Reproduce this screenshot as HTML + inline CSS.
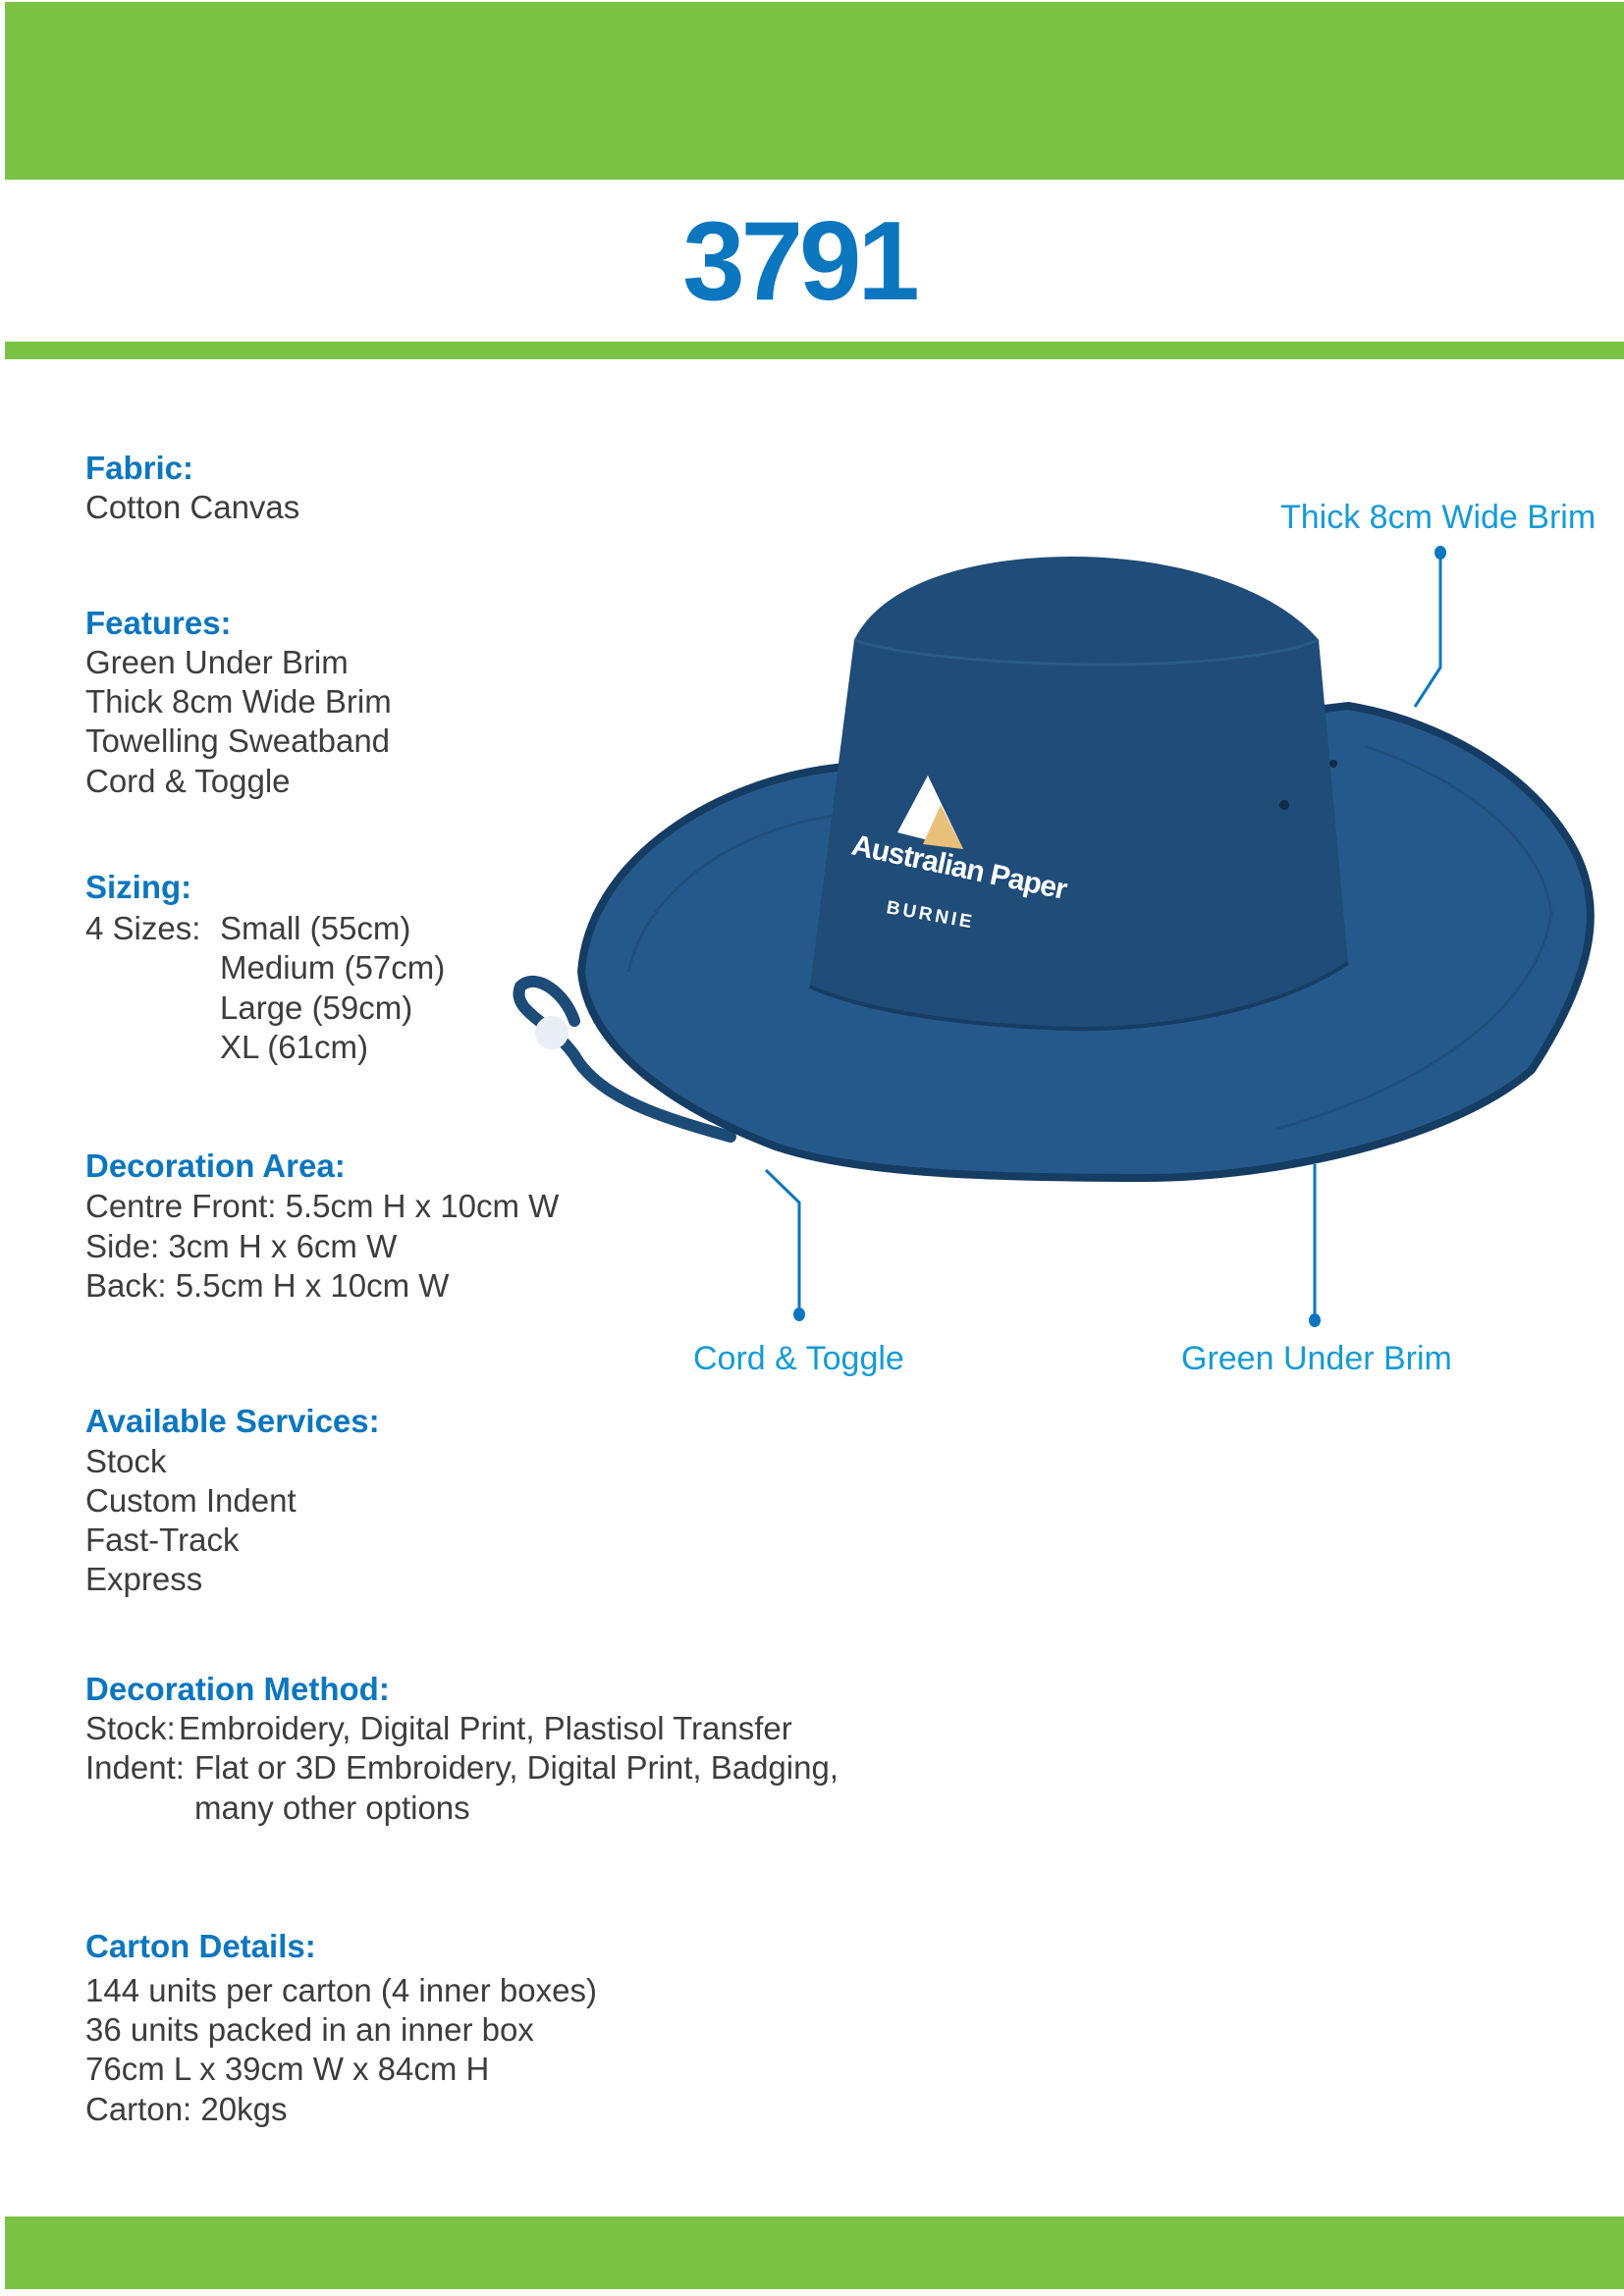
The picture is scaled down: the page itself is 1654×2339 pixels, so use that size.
<!DOCTYPE html>
<html><head><meta charset="utf-8"><style>
html,body{margin:0;padding:0}
body{width:1654px;height:2339px;position:relative;background:#fff;overflow:hidden;font-family:"Liberation Sans",Arial,sans-serif}
.bar{position:absolute;left:5px;width:1649px;background:#7ac244}
.t{position:absolute;left:87px;font-size:33px;line-height:40px;color:#3d3d3d;white-space:nowrap}
.h{color:#0c76bf;font-weight:bold}
.lab{position:absolute;font-size:34px;line-height:40px;color:#159ad8;white-space:nowrap}
</style></head><body>
<div class="bar" style="top:2px;height:181px"></div>
<div style="position:absolute;left:0;width:1628px;top:205px;text-align:center;font-size:114px;line-height:124px;font-weight:bold;color:#0c76bf;letter-spacing:-4px">3791</div>
<div class="bar" style="top:348px;height:18px"></div>
<div class="bar" style="top:2258px;height:74px"></div>

<div class="t h" style="top:457px">Fabric:</div>
<div class="t" style="top:497px">Cotton Canvas</div>

<div class="t h" style="top:615px">Features:</div>
<div class="t" style="top:655px">Green Under Brim</div>
<div class="t" style="top:695px">Thick 8cm Wide Brim</div>
<div class="t" style="top:735px">Towelling Sweatband</div>
<div class="t" style="top:776px">Cord &amp; Toggle</div>

<div class="t h" style="top:884px">Sizing:</div>
<div class="t" style="top:926px">4 Sizes:</div>
<div class="t" style="top:926px;left:224px">Small (55cm)</div>
<div class="t" style="top:966px;left:224px">Medium (57cm)</div>
<div class="t" style="top:1007px;left:224px">Large (59cm)</div>
<div class="t" style="top:1047px;left:224px">XL (61cm)</div>

<div class="t h" style="top:1168px">Decoration Area:</div>
<div class="t" style="top:1209px">Centre Front: 5.5cm H x 10cm W</div>
<div class="t" style="top:1250px">Side: 3cm H x 6cm W</div>
<div class="t" style="top:1290px">Back: 5.5cm H x 10cm W</div>

<div class="t h" style="top:1428px">Available Services:</div>
<div class="t" style="top:1469px">Stock</div>
<div class="t" style="top:1509px">Custom Indent</div>
<div class="t" style="top:1549px">Fast-Track</div>
<div class="t" style="top:1589px">Express</div>

<div class="t h" style="top:1701px">Decoration Method:</div>
<div class="t" style="top:1741px">Stock:</div>
<div class="t" style="top:1741px;left:182px">Embroidery, Digital Print, Plastisol Transfer</div>
<div class="t" style="top:1781px">Indent:</div>
<div class="t" style="top:1781px;left:198px">Flat or 3D Embroidery, Digital Print, Badging,</div>
<div class="t" style="top:1822px;left:198px">many other options</div>

<div class="t h" style="top:1963px">Carton Details:</div>
<div class="t" style="top:2008px">144 units per carton (4 inner boxes)</div>
<div class="t" style="top:2048px">36 units packed in an inner box</div>
<div class="t" style="top:2088px">76cm L x 39cm W x 84cm H</div>
<div class="t" style="top:2129px">Carton: 20kgs</div>

<div class="lab" style="left:1304px;top:507px">Thick 8cm Wide Brim</div>
<div class="lab" style="left:706px;top:1364px">Cord &amp; Toggle</div>
<div class="lab" style="left:1203px;top:1364px">Green Under Brim</div>

<svg style="position:absolute;left:0;top:0" width="1654" height="2339">
 <path d="M744,1158 C680,1140 610,1120 585,1075 C560,1040 520,1030 530,1005 C545,990 575,1010 585,1040" fill="none" stroke="#1d4b78" stroke-width="12" stroke-linecap="round"/>
 <circle cx="562" cy="1052" r="17" fill="#e8eef4"/>
 <path d="M592,990 C600,880 720,800 844,783 L1373,719 C1470,735 1560,790 1600,860 C1635,920 1625,990 1560,1090 C1480,1160 1300,1200 1166,1200 C1000,1200 870,1195 790,1168 C690,1130 600,1070 592,990 Z" fill="#26598b" stroke="#153c62" stroke-width="8"/>
 <path d="M640,990 C660,900 760,840 860,830 M1390,760 C1480,790 1570,850 1580,930 C1570,1010 1480,1100 1300,1150" fill="none" stroke="#1d4a76" stroke-width="3" opacity=".6"/>
 <path d="M870,652 C900,590 1000,567 1092,567 C1200,567 1300,600 1343,652 L1373,981 C1300,1030 1180,1050 1092,1048 C980,1045 880,1030 825,1005 Z" fill="#1f4c78"/>
 <path d="M870,652 C950,680 1250,690 1343,652" fill="none" stroke="#2a5a88" stroke-width="3"/>
 <path d="M825,1005 C880,1030 980,1045 1092,1048 C1180,1050 1300,1030 1373,981" fill="none" stroke="#163d63" stroke-width="4"/>
 <circle cx="1308" cy="820" r="5" fill="#0e2b48"/><circle cx="1358" cy="778" r="4" fill="#0e2b48"/>
 <polygon points="945,790 914,848 981,865" fill="#ffffff"/>
 <polygon points="958,820 981,865 940,860" fill="#e8c07a"/>
 <text x="866" y="870" transform="rotate(12 866 870)" font-family="Liberation Sans" font-weight="bold" font-size="30" fill="#fff" letter-spacing="-1">Australian Paper</text>
 <text x="902" y="930" transform="rotate(10 902 930)" font-family="Liberation Sans" font-weight="bold" font-size="19" fill="#fff" letter-spacing="3">BURNIE</text>
 <g stroke="#0c76bf" stroke-width="3" fill="none">
  <polyline points="1467,563 1467,680 1441,720"/>
  <polyline points="780,1192 814,1225 814,1339"/>
  <line x1="1339" y1="1186" x2="1339" y2="1345"/>
 </g>
 <g fill="#0c76bf">
  <ellipse cx="1467" cy="563" rx="6" ry="7"/>
  <ellipse cx="814" cy="1339" rx="6" ry="7"/>
  <ellipse cx="1339" cy="1345" rx="6" ry="7"/>
 </g>
</svg>
</body></html>
